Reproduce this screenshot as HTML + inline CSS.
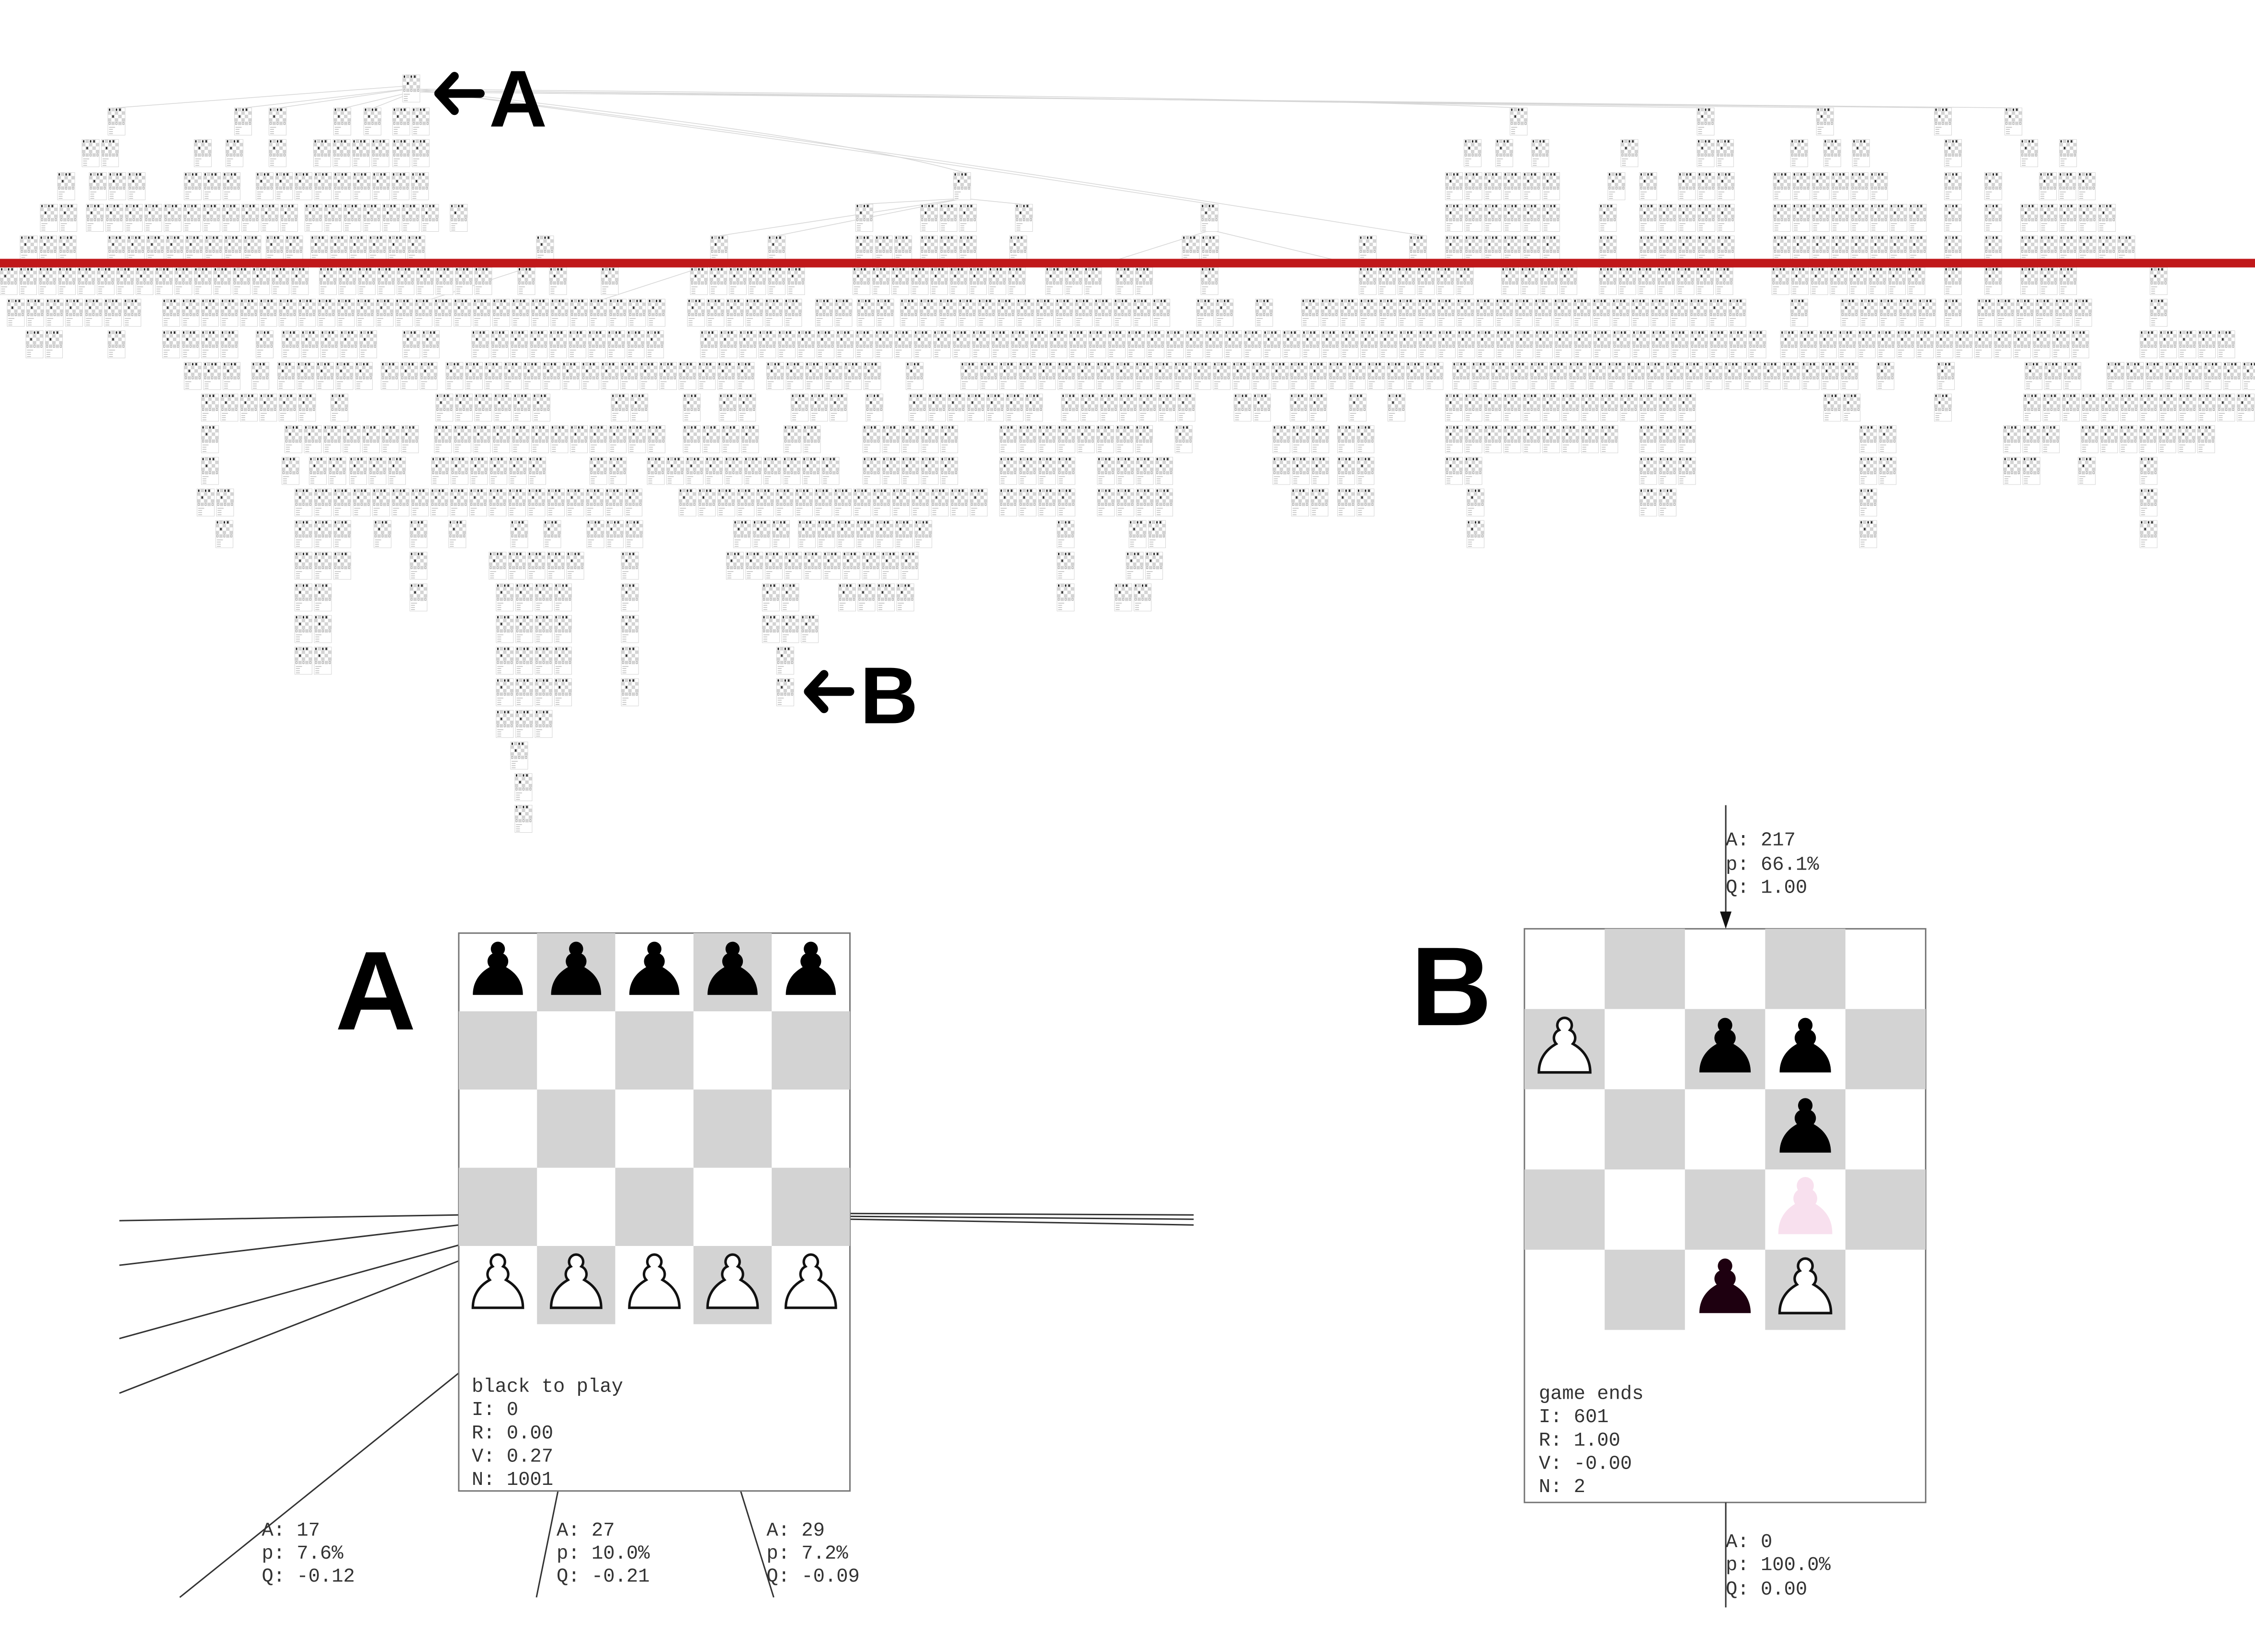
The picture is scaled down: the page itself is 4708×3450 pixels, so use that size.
<!DOCTYPE html>
<html><head><meta charset="utf-8"><style>
html,body{margin:0;padding:0;background:#fff;}
svg{display:block;}
.mono{font-family:"Liberation Mono","DejaVu Sans Mono",monospace;fill:#333;}
.big{font-family:"Liberation Sans Narrow","Liberation Sans",sans-serif;font-weight:bold;fill:#000;}
</style></head><body>
<svg id="chart" width="4708" height="3450" viewBox="0 0 1568 1149" xmlns="http://www.w3.org/2000/svg">
<defs>
<symbol id="pawn" viewBox="0 0 40 40"><path d="M20 3 a4.6 4.6 0 0 1 3.4 7.6 a5.4 5.4 0 0 1 1.8 8.6 C32 23 36 29 36 37 L4 37 C4 29 8 23 14.8 19.2 a5.4 5.4 0 0 1 1.8 -8.6 A4.6 4.6 0 0 1 20 3 Z"/></symbol>
<symbol id="node" viewBox="0 0 12 19" overflow="visible">
<rect x="0" y="0" width="12" height="19" fill="#fff" stroke="#d0d0d0" stroke-width="0.3"/>
<g fill="#d3d3d3">
<rect x="2.4" y="0" width="2.4" height="2.4"/><rect x="7.2" y="0" width="2.4" height="2.4"/>
<rect x="0" y="2.4" width="2.4" height="2.4"/><rect x="4.8" y="2.4" width="2.4" height="2.4"/><rect x="9.6" y="2.4" width="2.4" height="2.4"/>
<rect x="2.4" y="4.8" width="2.4" height="2.4"/><rect x="7.2" y="4.8" width="2.4" height="2.4"/>
<rect x="0" y="7.2" width="2.4" height="2.4"/><rect x="4.8" y="7.2" width="2.4" height="2.4"/><rect x="9.6" y="7.2" width="2.4" height="2.4"/>
<rect x="2.4" y="9.6" width="2.4" height="2.4"/><rect x="7.2" y="9.6" width="2.4" height="2.4"/>
</g>
<g fill="#222"><rect x="0.7" y="0.5" width="1" height="1.6"/><rect x="5.5" y="0.5" width="1" height="1.6"/><rect x="7.9" y="0.5" width="1" height="1.6"/><rect x="3.1" y="5.2" width="1" height="1.6"/></g>
<g fill="none" stroke="#777" stroke-width="0.25"><rect x="0.7" y="10" width="1" height="1.6"/><rect x="5.5" y="10" width="1" height="1.6"/><rect x="10.3" y="10" width="1" height="1.6"/></g>
<g stroke="#bbb" stroke-width="0.5"><line x1="0.8" y1="13.5" x2="5" y2="13.5"/><line x1="0.8" y1="15" x2="3.5" y2="15"/><line x1="0.8" y1="16.5" x2="3.5" y2="16.5"/><line x1="0.8" y1="18" x2="3.5" y2="18"/></g>
</symbol>
</defs>
<g id="edges" stroke="#d6d6d6" stroke-width="0.5" fill="none">
<path d="M292 62 C500 64 900 68 1056 75"/><path d="M292 63 C600 66 1000 70 1186 75"/><path d="M292 63 C700 68 1100 72 1269 75"/><path d="M292 64 C800 68 1200 72 1351 75"/><path d="M292 64 C900 68 1300 72 1400 75"/>
<path d="M292 62 C450 80 600 100 670 120"/><path d="M292 63 C500 90 700 120 842 142"/><path d="M292 63 C600 100 900 150 990 164"/>
<path d="M280 60 L80 75"/><path d="M282 62 L170 75"/><path d="M284 62 L194 75"/><path d="M286 64 L240 75"/><path d="M288 64 L260 75"/>
<path d="M670 138 L500 164"/><path d="M670 138 L540 164"/><path d="M670 138 L600 142"/><path d="M670 138 L710 142"/>
<path d="M842 160 L760 186"/><path d="M842 160 L950 186"/><path d="M380 182 L300 208"/><path d="M500 182 L420 208"/>
</g>
<g id="nodes"></g>
<rect x="0" y="180" width="1568" height="6" fill="#c0181a"/>
<g>
<path d="M334 65 L306 65 M316 53 L305 65 L316 77" stroke="#000" stroke-width="6" stroke-linecap="round" stroke-linejoin="round" fill="none"/>
<text class="big" x="340" y="88" font-size="56">A</text>
</g>
<g>
<path d="M591 481 L563 481 M573 469 L562 481 L573 493" stroke="#000" stroke-width="6" stroke-linecap="round" stroke-linejoin="round" fill="none"/>
<text class="big" x="598" y="503" font-size="56">B</text>
</g>
<text class="big" x="233" y="716" font-size="78">A</text>
<text class="big" x="981" y="713" font-size="78">B</text>
<g stroke="#333" stroke-width="1" fill="none">
<line x1="319" y1="845" x2="83" y2="849"/><line x1="319" y1="852" x2="83" y2="880"/><line x1="319" y1="866" x2="83" y2="931"/><line x1="319" y1="877" x2="83" y2="969"/><line x1="319" y1="955" x2="125" y2="1111"/>
<line x1="591" y1="844" x2="830" y2="845"/><line x1="591" y1="846" x2="830" y2="848"/><line x1="591" y1="848" x2="830" y2="852"/>
<line x1="388" y1="1037" x2="373" y2="1111"/><line x1="515" y1="1037" x2="538" y2="1111"/>
</g>
<g id="boardA"></g>
<g id="boardB"></g>
<g font-size="13.5" class="mono">
<text class="mono" x="182" y="1068">A: 17</text><text class="mono" x="182" y="1084">p: 7.6%</text><text class="mono" x="182" y="1100">Q: -0.12</text>
<text class="mono" x="387" y="1068">A: 27</text><text class="mono" x="387" y="1084">p: 10.0%</text><text class="mono" x="387" y="1100">Q: -0.21</text>
<text class="mono" x="533" y="1068">A: 29</text><text class="mono" x="533" y="1084">p: 7.2%</text><text class="mono" x="533" y="1100">Q: -0.09</text>
</g>
<g>
<line x1="1200" y1="560" x2="1200" y2="638" stroke="#333" stroke-width="1"/>
<path d="M1196 634 L1204 634 L1200 646 Z" fill="#111"/>
<line x1="1200" y1="1045" x2="1200" y2="1118" stroke="#333" stroke-width="1"/>
<g font-size="13.5"><text class="mono" x="1200" y="588">A: 217</text><text class="mono" x="1200" y="605">p: 66.1%</text><text class="mono" x="1200" y="621">Q: 1.00</text>
<text class="mono" x="1200" y="1076">A: 0</text><text class="mono" x="1200" y="1092">p: 100.0%</text><text class="mono" x="1200" y="1109">Q: 0.00</text></g>
</g>
</svg>
<script>
const rowY=[52,75,97,120,142,164,186,208,230,252,274,296,318,340,362,384,406,428,450,472,494,516,538,560];
const rowSpans=[
[[280,293]],
[[75,88],[163,177],[187,200],[232,246],[253,266],[273,298],[1050,1063],[1180,1193],[1263,1276],[1345,1358],[1394,1407]],
[[57,88],[135,150],[157,172],[187,200],[218,265],[273,298],[1018,1032],[1040,1055],[1065,1082],[1127,1140],[1180,1207],[1245,1262],[1268,1282],[1288,1300],[1352,1365],[1405,1420],[1432,1448]],
[[40,55],[62,100],[128,168],[178,298],[663,677],[1005,1085],[1118,1132],[1140,1155],[1167,1207],[1233,1318],[1352,1365],[1380,1393],[1418,1458]],
[[28,52],[60,205],[212,300],[313,327],[595,608],[640,680],[706,718],[835,848],[1005,1085],[1112,1127],[1140,1207],[1233,1335],[1352,1365],[1380,1393],[1405,1472]],
[[14,52],[75,180],[185,208],[216,300],[373,387],[494,506],[534,546],[595,635],[640,680],[702,718],[822,850],[945,958],[980,992],[1005,1085],[1112,1127],[1140,1207],[1233,1335],[1352,1365],[1380,1393],[1405,1485]],
[[0,210],[222,345],[360,372],[382,396],[418,430],[480,560],[593,712],[727,770],[776,795],[835,848],[945,1030],[1044,1103],[1112,1210],[1232,1337],[1352,1365],[1380,1393],[1405,1440],[1495,1510]],
[[5,100],[113,460],[478,560],[567,590],[596,620],[626,818],[832,857],[873,887],[905,1215],[1245,1260],[1280,1345],[1352,1365],[1375,1455],[1495,1510]],
[[18,45],[75,90],[113,172],[178,192],[196,260],[280,305],[328,468],[487,1225],[1238,1455],[1488,1555]],
[[128,168],[175,186],[193,260],[265,300],[310,525],[533,613],[630,648],[668,890],[897,1005],[1010,1295],[1305,1320],[1347,1360],[1408,1448],[1465,1568]],
[[140,215],[230,243],[303,385],[425,450],[475,490],[500,525],[550,585],[602,612],[632,730],[738,828],[858,885],[897,925],[938,950],[965,977],[1005,1180],[1268,1295],[1345,1360],[1407,1567]],
[[140,153],[198,285],[302,465],[475,530],[545,570],[600,668],[695,808],[817,830],[885,922],[930,960],[1005,1130],[1140,1180],[1293,1318],[1393,1435],[1447,1540]],
[[140,153],[196,210],[215,235],[243,285],[300,383],[410,440],[450,590],[600,668],[695,750],[763,815],[885,922],[930,960],[1005,1030],[1140,1180],[1293,1318],[1393,1420],[1445,1463],[1488,1503]],
[[137,163],[205,450],[472,680],[695,750],[763,810],[898,925],[930,960],[1020,1032],[1140,1165],[1293,1308],[1488,1503]],
[[150,163],[205,250],[260,273],[285,300],[312,327],[355,368],[378,390],[408,448],[510,545],[555,650],[735,748],[785,808],[1020,1032],[1293,1308],[1488,1503]],
[[205,245],[285,300],[340,400],[432,448],[505,637],[735,748],[783,808]],
[[205,232],[285,300],[345,400],[432,448],[530,555],[583,636],[735,748],[775,800]],
[[205,232],[345,400],[432,448],[530,570]],
[[205,232],[345,400],[432,448],[540,555]],
[[345,400],[432,448],[540,555]],
[[345,390]],
[[355,372]],
[[358,372]],
[[358,372]]
];
const NS="http://www.w3.org/2000/svg";
const nodesG=document.getElementById('nodes');
const pitch=13.5;
rowSpans.forEach((spans,ri)=>{
  const y=rowY[ri];
  spans.forEach(s=>{
    const n=Math.max(1,Math.round((s[1]-s[0]+1.5)/pitch));
    for(let i=0;i<n;i++){
      const u=document.createElementNS(NS,'use');
      u.setAttribute('href','#node');
      u.setAttribute('x',s[0]+i*pitch);
      u.setAttribute('y',y);
      u.setAttribute('width',12);u.setAttribute('height',19);
      
      
      nodesG.appendChild(u);
    }
  });
});
const boardAPieces=[[0,0,'b'],[0,1,'b'],[0,2,'b'],[0,3,'b'],[0,4,'b'],[4,0,'w'],[4,1,'w'],[4,2,'w'],[4,3,'w'],[4,4,'w']];
const boardBPieces=[[1,0,'w'],[1,2,'b'],[1,3,'b'],[2,3,'b'],[3,3,'p'],[4,2,'d'],[4,3,'w']];
const boardAText=['black to play','I: 0','R: 0.00','V: 0.27','N: 1001'];
const boardBText=['game ends','I: 601','R: 1.00','V: -0.00','N: 2'];
function mk(tag,attrs,parent){const e=document.createElementNS(NS,tag);for(const k in attrs)e.setAttribute(k,attrs[k]);parent.appendChild(e);return e;}
function board(g,x0,y0,sq,bottom,pieces,lines,tx,ty){
  const box=mk('rect',{x:x0,y:y0,width:sq*5,height:bottom-y0,fill:'#fff',stroke:'#777','stroke-width':1},g);
  
  
  for(let r=0;r<5;r++)for(let c=0;c<5;c++){
    if((r+c)%2===1){const s=mk('rect',{x:x0+c*sq,y:y0+r*sq,width:sq,height:sq,fill:'#d3d3d3'},g);
      
      }
  }
  pieces.forEach(p=>{
    const [r,c,t]=p;
    const fill=t==='b'?'#000':t==='d'?'#1e0010':t==='p'?'#f8e0ee':'#fff';
    const stroke=t==='w'?'#111':t==='p'?'#f8e0ee':'none';
    const u=mk('use',{href:'#pawn',x:x0+c*sq+sq*0.1,y:y0+r*sq+sq*0.05,width:sq*0.8,height:sq*0.8,fill:fill,stroke:stroke,'stroke-width':1.6},g);
    
    
  });
  lines.forEach((l,i)=>{
    const t=mk('text',{x:tx,y:ty+i*16.2,'font-size':13.5,class:'mono'},g);
    t.textContent=l;
    
    
  });
}
board(document.getElementById('boardA'),319,649,54.4,1037,boardAPieces,boardAText,328,968);
board(document.getElementById('boardB'),1060,646,55.8,1045,boardBPieces,boardBText,1070,973);
</script>
</body></html>
